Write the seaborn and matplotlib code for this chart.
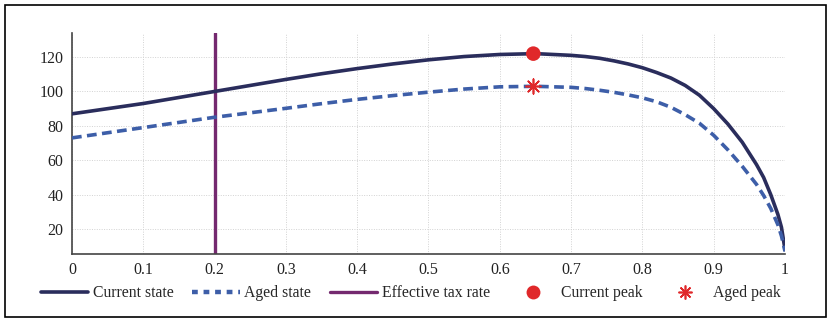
import numpy as np
import pandas as pd
import seaborn as sns
import matplotlib
matplotlib.use("Agg")
import matplotlib.pyplot as plt
from matplotlib.lines import Line2D
from matplotlib.patches import Rectangle
from matplotlib.legend_handler import HandlerLine2D

# ---- data ----
tax_rate = [0.0, 0.05, 0.1, 0.15, 0.2, 0.25, 0.3, 0.35, 0.4, 0.45, 0.5, 0.55,
            0.6, 0.65, 0.7, 0.72, 0.74, 0.76, 0.78, 0.8, 0.82, 0.84, 0.86, 0.88,
            0.9, 0.92, 0.94, 0.96, 0.97, 0.98, 0.99, 0.995, 1.0]
current_state = [87, 90, 93, 96.5, 100, 103.5, 107, 110.3, 113.3, 116, 118.4, 120.3,
                 121.5, 122, 121.0, 120.3, 119.3, 117.8, 116.0, 113.8, 111.0, 107.8,
                 103.5, 97.8, 90.0, 81.0, 70.5, 57.5, 50, 40, 28.5, 21, 8]
aged_state = [73, 76, 79, 82, 85, 87.6, 90.2, 92.9, 95.4, 97.6, 99.6, 101.4,
              102.7, 103, 102.4, 101.7, 100.7, 99.5, 98.0, 96.3, 94.0, 90.8,
              86.5, 81.5, 74.5, 66.0, 56.5, 46.0, 39.5, 32.0, 22.5, 16, 7]
effective_tax_rate = 0.2
peak_x = [0.647]
current_peak = [122]
aged_peak = [103]
x_ticks = [0, 0.1, 0.2, 0.3, 0.4, 0.5, 0.6, 0.7, 0.8, 0.9, 1]
x_tick_labels = ["0", "0.1", "0.2", "0.3", "0.4", "0.5", "0.6", "0.7", "0.8", "0.9", "1"]
y_ticks = [20, 40, 60, 80, 100, 120]
legend_labels = ["Current state", "Aged state", "Effective tax rate", "Current peak", "Aged peak"]

# ---- style ----
sns.set_theme(style="white")
plt.rcParams["font.family"] = ["Liberation Serif", "DejaVu Serif"]
plt.rcParams["font.size"] = 11.3

c_cur = "#2a2d5c"
c_aged = "#3d5ea8"
c_tax = "#74296f"
c_peak = "#e0282a"

fig = plt.figure(figsize=(8.33, 3.25), dpi=100)
ax = fig.add_axes([0.0864, 0.2185, 0.856, 0.68])

df = pd.DataFrame({"x": tax_rate, "cur": current_state, "aged": aged_state})
sns.lineplot(data=df, x="x", y="cur", ax=ax, color=c_cur, lw=2.6, zorder=3)
sns.lineplot(data=df, x="x", y="aged", ax=ax, color=c_aged, lw=2.6, zorder=3)
ax.lines[-1].set_dashes([2.7, 1.5])
ax.axvline(effective_tax_rate, color=c_tax, lw=2.4, zorder=2)
sns.scatterplot(x=peak_x, y=current_peak, ax=ax, color=c_peak, s=110,
                edgecolor="none", zorder=5)
sns.scatterplot(x=peak_x, y=aged_peak, ax=ax, color=c_peak, s=110,
                marker=(8, 2, 0), linewidth=1.2, zorder=5)

ax.set_xlim(0, 1)
ax.set_ylim(5.5, 134)
ax.set_xticks(x_ticks)
ax.set_xticklabels(x_tick_labels)
ax.set_yticks(y_ticks)
ax.set_xlabel("")
ax.set_ylabel("")
ax.grid(True, linestyle=(0, (1, 1.5)), color="#d2d2d2", lw=0.7)
for s in ["top", "right"]:
    ax.spines[s].set_visible(False)
for s in ["left", "bottom"]:
    ax.spines[s].set_color("#444444")
    ax.spines[s].set_linewidth(1.2)
ax.tick_params(direction="in", length=4, width=1, color="#444444",
               labelsize=11.5, labelcolor="#222222", pad=6)


class RightMarker(HandlerLine2D):
    def get_xdata(self, legend, xdescent, ydescent, width, height, fontsize):
        xdata = np.array([-xdescent, -xdescent + width])
        xm = np.array([-xdescent + 0.8 * width])
        return xdata, xm


handles = [
    Line2D([], [], color=c_cur, lw=2.6),
    Line2D([], [], color=c_aged, lw=3.2, dashes=[1.3, 1.3]),
    Line2D([], [], color=c_tax, lw=2.4),
    Line2D([], [], color=c_peak, marker="o", ls="none", markersize=10, markeredgecolor="none"),
    Line2D([], [], color=c_peak, marker=(8, 2, 0), ls="none", markersize=10, markeredgewidth=1.2),
]
fig.legend(handles, legend_labels, loc="center", bbox_to_anchor=(0.4934, 0.098),
           ncol=5, frameon=False, fontsize=11.3, handlelength=3.0,
           handletextpad=0.31, columnspacing=1.2,
           handler_map={handles[3]: RightMarker(), handles[4]: RightMarker()})

fig.add_artist(Rectangle((5 / 833, 1 - 317 / 325), 821 / 833, 312 / 325,
                         transform=fig.transFigure, fill=False,
                         edgecolor="black", lw=1.2))

fig.savefig("out.png", dpi=100)
